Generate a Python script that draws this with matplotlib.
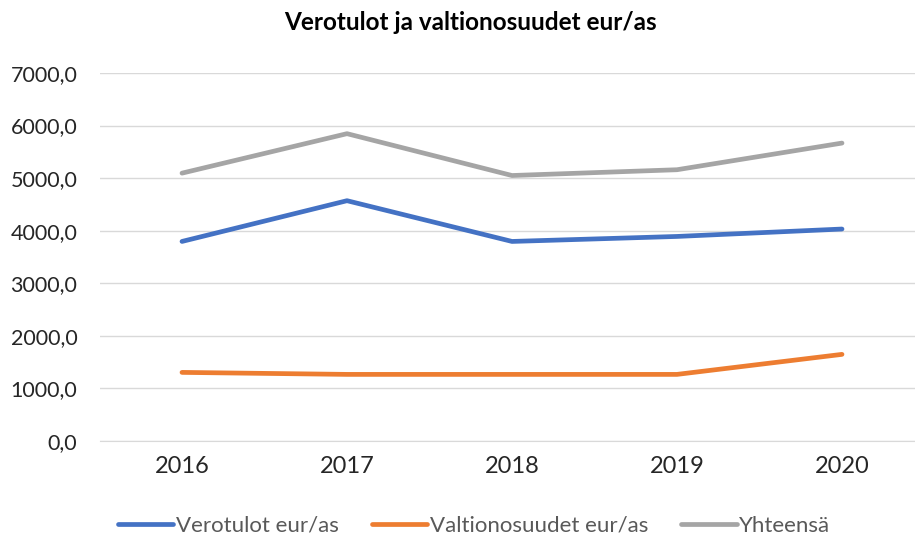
import numpy as np
import matplotlib.pyplot as plt
from matplotlib.ticker import FuncFormatter

years = ['2016', '2017', '2018', '2019', '2020']
verotulot = [3796, 4571, 3796, 3891, 4032]
valtionosuudet = [1305, 1267, 1267, 1267, 1648]
yhteensa = [5095, 5846, 5050, 5160, 5667]

plt.rcParams['font.family'] = ['Lato', 'DejaVu Sans']

fig = plt.figure(figsize=(9.15, 5.4), dpi=100)
ax = fig.add_axes([99.5 / 915, 99 / 540, (915 - 99.5) / 915, (441 - 73) / 540])

x = np.arange(len(years))
ax.plot(x, verotulot, color='#4472C4', lw=3.4, solid_capstyle='round', label='Verotulot eur/as')
ax.plot(x, valtionosuudet, color='#ED7D31', lw=3.4, solid_capstyle='round', label='Valtionosuudet eur/as')
ax.plot(x, yhteensa, color='#A5A5A5', lw=3.4, solid_capstyle='round', label='Yhteensä')

ax.set_ylim(0, 7000)
ax.set_xlim(-0.5, (915 - 182) / 165)
ax.set_yticks(range(0, 7001, 1000))
ax.yaxis.set_major_formatter(FuncFormatter(lambda v, p: f'{v:.1f}'.replace('.', ',')))
ax.set_xticks(x)
ax.set_xticklabels(years)
ax.grid(axis='y', color='#D9D9D9', lw=1)
ax.set_axisbelow(True)
for s in ['top', 'right', 'left']:
    ax.spines[s].set_visible(False)
ax.spines['bottom'].set_color('#D9D9D9')
ax.tick_params(length=0, colors='#262626')
ax.tick_params(axis='x', pad=11, labelsize=17)
ax.tick_params(axis='y', pad=16, labelsize=15.5)

fig.text(0.514, 0.958, 'Verotulot ja valtionosuudet eur/as', ha='center', va='center',
         fontsize=17.5, fontweight='bold', color='black')

fig.legend(loc='center', bbox_to_anchor=(0.518, 0.026), ncol=3, frameon=False,
           fontsize=16, handlelength=2.5, handletextpad=0.1, columnspacing=1.5,
           labelcolor='#595959')

fig.savefig('out.png', dpi=100)
